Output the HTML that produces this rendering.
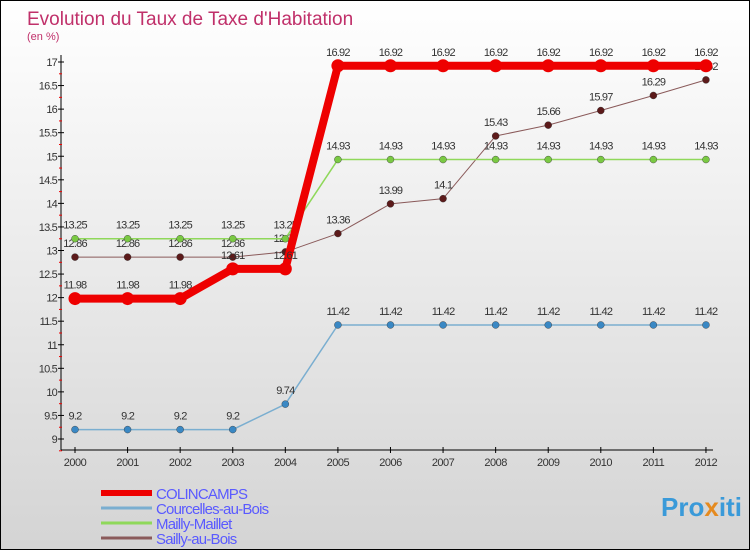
<!DOCTYPE html>
<html><head><meta charset="utf-8"><style>
body{margin:0}
#c{width:750px;height:550px;position:relative;box-sizing:border-box;border:1px solid #000;background:linear-gradient(#fff,#d4d4d4);overflow:hidden;font-family:"Liberation Sans",sans-serif}
</style></head><body>
<div id="c">
<svg id="s" width="748" height="548">
<text x="26" y="24" font-size="19" fill="#c0306a">Evolution du Taux de Taxe d'Habitation</text>
<text x="26" y="39" font-size="11" fill="#c0306a">(en %)</text>
<g id="g"></g>
<text x="660" y="515" font-size="26" font-weight="bold" fill="#3a9ad9">Pro<tspan fill="#e58a1f">x</tspan>iti</text>
</svg>
</div>
<script>
const years=[2000,2001,2002,2003,2004,2005,2006,2007,2008,2009,2010,2011,2012];
const colincamps=[11.98,11.98,11.98,12.61,12.61,16.92,16.92,16.92,16.92,16.92,16.92,16.92,16.92];
const courcelles=[9.2,9.2,9.2,9.2,9.74,11.42,11.42,11.42,11.42,11.42,11.42,11.42,11.42];
const mailly=[13.25,13.25,13.25,13.25,13.25,14.93,14.93,14.93,14.93,14.93,14.93,14.93,14.93];
const sailly=[12.86,12.86,12.86,12.86,12.97,13.36,13.99,14.1,15.43,15.66,15.97,16.29,16.62];
const yTicks=[9,9.5,10,10.5,11,11.5,12,12.5,13,13.5,14,14.5,15,15.5,16,16.5,17];
const seriesNames=["COLINCAMPS","Courcelles-au-Bois","Mailly-Maillet","Sailly-au-Bois"];
const ns="http://www.w3.org/2000/svg",g=document.getElementById('g');
const X=i=>74+i*52.58, Y=v=>438-(v-9)*47.125;
function mk(t,a,p){const e=document.createElementNS(ns,t);for(const k in a)e.setAttribute(k,a[k]);(p||g).appendChild(e);return e;}
let ax=mk('line',{x1:60,y1:54,x2:60,y2:449,stroke:'#000'});

let xa=mk('line',{x1:60,y1:449,x2:712,y2:449,stroke:'#000'});

yTicks.forEach(v=>{const y=Y(v);
 mk('line',{x1:57,y1:y,x2:63,y2:y,stroke:'#000'});
 mk('line',{x1:58,y1:y+11.8,x2:61,y2:y+11.8,stroke:'#e00'});
 const t=mk('text',{x:56,y:y+4,'font-size':11,'text-anchor':'end',fill:'#333','letter-spacing':'-0.8'});t.textContent=v;
 });
years.forEach((yr,i)=>{const x=X(i);
 mk('line',{x1:x,y1:446,x2:x,y2:452,stroke:'#000'});
 const t=mk('text',{x:x,y:465,'font-size':11,'text-anchor':'middle',fill:'#333','letter-spacing':'-0.5'});t.textContent=yr;
 });
const series=[[colincamps,'#ee0000',8,6.5],[courcelles,'#7aaed0',1.5,3.5,'#3a88c4'],[mailly,'#8fd85a',1.5,3.5,'#7ac943'],[sailly,'#8a5a5a',1,3.5,'#5c1a1a']];
[series[3],series[2],series[1],series[0]].forEach(s=>{
 const d=s[0].map((v,i)=>(i?'L':'M')+X(i)+' '+Y(v)).join(' ');
 const p=mk('path',{d:d,fill:'none',stroke:s[1],'stroke-width':s[2]});
 
 s[0].forEach((v,i)=>{const c=mk('circle',{cx:X(i),cy:Y(v),r:s[3],fill:s[4]||s[1],stroke:s[4]?'#333':'none','stroke-width':0.4});
  
  const t=mk('text',{x:X(i),y:Y(v)-10,'font-size':11,'text-anchor':'middle',fill:'#333','letter-spacing':'-0.8'});t.textContent=v;
  });
});
const lc=['#ee0000','#7aaed0','#8fd85a','#8a5a5a'],lw=[6,3,3,3];
seriesNames.forEach((n,i)=>{const y=492+i*15;
 const l=mk('line',{x1:100,y1:y,x2:151,y2:y,stroke:lc[i],'stroke-width':lw[i]});
 
 const t=mk('text',{x:155,y:y+6,'font-size':15,fill:'#5a5aff','letter-spacing':'-0.8'});t.textContent=n;
 });
</script>
</body></html>
